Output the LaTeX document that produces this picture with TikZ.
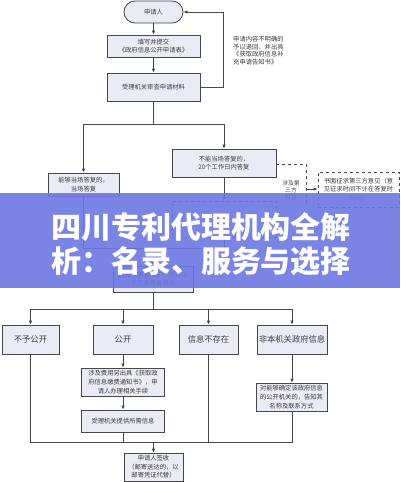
\documentclass[tikz,border=0pt]{standalone}
\usepackage{fontspec}
\setmainfont{Noto Sans CJK SC}
\usetikzlibrary{arrows.meta,calc}
\definecolor{boxfill}{RGB}{233,236,245}
\definecolor{boxline}{RGB}{70,70,75}
\definecolor{txt}{RGB}{60,60,65}
\definecolor{bannerblue}{RGB}{108,119,226}
\tikzset{
  box/.style={draw=boxline,fill=boxfill,line width=0.8pt,align=center,inner sep=1pt,text=txt,font=\fontsize{6.3}{8.6}\selectfont},
  bigbox/.style={box,font=\fontsize{8.3}{10}\selectfont},
  dbox/.style={draw=boxline,dashed,line width=0.8pt,align=center,inner sep=1pt,text=txt,font=\fontsize{6.3}{8.6}\selectfont},
  conn/.style={draw=boxline,line width=0.8pt},
  arr/.style={conn,-{Latex[length=4pt,width=3.6pt]}},
  dconn/.style={conn,dashed},
  note/.style={text=txt,align=left,inner sep=0pt,font=\fontsize{6.3}{7.6}\selectfont},
}
\begin{document}
\begin{tikzpicture}[x=1pt,y=-1pt]
\useasboundingbox (0,0) rectangle (400,482);
\fill[white] (0,0) rectangle (400,482);
% nodes
\node[box,rounded corners=11pt,minimum width=59pt,minimum height=22pt] (start) at (153.5,12) {申请人};
\node[box,minimum width=93pt,minimum height=22pt] (fill) at (153.5,46) {填写并提交\\《政府信息公开申请表》};
\node[box,minimum width=93pt,minimum height=28pt] (review) at (153.5,87) {受理机关审查申请材料};
\node[note,anchor=north west] (retnote) at (233,36) {申请内容不明确的\\予以退回，并出具\\《获取政府信息补\\充申请告知书》};
\node[box,minimum width=104pt,minimum height=28pt] (nocan) at (224,163) {不能当场答复的，\\20个工作日内答复};
\node[box,minimum width=71pt,minimum height=23pt] (can) at (83.5,184.5) {能够当场答复的，\\当场答复};
\node[dbox,minimum width=81pt,minimum height=35pt] (thirdbox) at (358.5,189.5) {书面征求第三方意见（意\\见征求时间不计在答复时\\间内）};
\node[text=txt,align=center,inner sep=0pt,font=\fontsize{5.8}{7}\selectfont] (thirdtxt) at (291,190) {涉及第\\三方\\权益};
\node[dbox,minimum width=104pt,minimum height=36pt] (extbox) at (224,219) {};
\node[box,minimum width=80pt,minimum height=26pt] (reply) at (153,279) {出具《答复书》，包含以\\下几类答复情况};
\node[bigbox,minimum width=57pt,minimum height=29pt] (c1) at (30.5,339.5) {不予公开};
\node[bigbox,minimum width=60pt,minimum height=29pt] (c2) at (123,339.5) {公开};
\node[bigbox,minimum width=59pt,minimum height=29pt] (c3) at (208.5,339.5) {信息不存在};
\node[bigbox,minimum width=70pt,minimum height=29pt] (c4) at (292,339.5) {非本机关政府信息};
\node[box,minimum width=83pt,minimum height=28pt] (fee) at (123,382) {涉及费用另出具《获取政\\府信息缴费通知书》，申\\请人办理相关手续};
\node[box,minimum width=83pt,minimum height=22pt] (provide) at (123,421) {受理机关提供所需信息};
\node[box,minimum width=71pt,minimum height=28pt] (tell) at (291.5,397) {对能够确定该政府信息\\的公开机关的，告知其\\名称及联系方式};
\node[box,minimum width=59pt,minimum height=28pt] (sign) at (153.5,467) {申请人签收\\（邮寄送达的，以\\邮寄凭证代替）};
% coordinates
\coordinate (split) at (153.5,124);
\coordinate (retR) at (223,87);
\coordinate (retT) at (223,12);
\coordinate (dR) at (306,164);
\coordinate (dB) at (306,205);
\coordinate (dA) at (306,189);
\coordinate (mL) at (83.5,248);
\coordinate (mR) at (224,248);
\coordinate (mC) at (153,248);
\coordinate (cat) at (153,309);
\coordinate (bL) at (30.5,442);
\coordinate (bR) at (292,442);
\coordinate (bC) at (153.5,442);
% connectors
\draw[arr] (start) -- (fill);
\draw[arr] (fill) -- (review);
\draw[conn] (review.east) -- (retR) -- (retT);
\draw[arr] (retT) -- (start.east);
\draw[conn] (review.south) -- (split);
\draw[arr] (split) -| (nocan.north);
\draw[arr] (split) -| (can.north);
\draw[arr] (nocan) -- (extbox);
\draw[dconn] (nocan.east |- dR) -- (dR) -- (dB);
\draw[arr] (dA) -- (thirdbox.west |- dA);
\draw[conn] (can.south) -- (mL) -- (mR) -- (extbox.south);
\draw[arr] (mC) -- (reply.north);
\draw[conn] (reply.south) -- (cat);
\draw[arr] (cat) -| (c1.north);
\draw[arr] (cat) -| (c2.north);
\draw[arr] (cat) -| (c3.north);
\draw[arr] (cat) -| (c4.north);
\draw[arr] (c2) -- (fee);
\draw[arr] (fee) -- (provide);
\draw[arr] (c4.south) -- (tell.north -| c4.south);
\draw[conn] (c1.south) -- (bL) -- (bR) -- (tell.south -| bR);
\draw[conn] (provide.south) -- (provide.south |- bL);
\draw[conn] (c3.south) -- (c3.south |- bL);
\draw[arr] (bC) -- (sign.north);
% banner
\fill[bannerblue,fill opacity=0.9] (0,193) rectangle (400,288);
\node[text=white,inner sep=0pt,font=\fontsize{30}{34}\selectfont\bfseries] (b1) at (201,227) {四川专利代理机构全解};
\node[text=white,inner sep=0pt,font=\fontsize{30}{34}\selectfont\bfseries] (b2) at (201,261) {析：名录、服务与选择};
\end{tikzpicture}
\end{document}
